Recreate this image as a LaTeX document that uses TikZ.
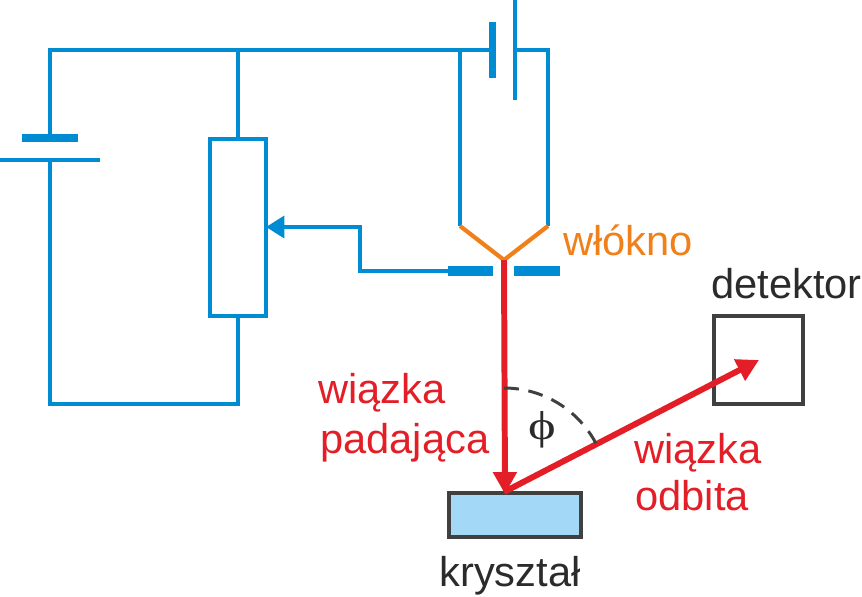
\documentclass[tikz,border=0pt]{standalone}
\usepackage{fontspec}
\setmainfont{Liberation Sans}
\newfontfamily\greekfont{Liberation Serif}
\usetikzlibrary{arrows.meta}
\definecolor{wireblue}{HTML}{008CD2}
\definecolor{beamred}{HTML}{E31E26}
\definecolor{filorange}{HTML}{F08019}
\definecolor{boxgray}{HTML}{404040}
\definecolor{textgray}{HTML}{2B2B2B}
\definecolor{crystalblue}{HTML}{A3D8F7}
\tikzset{
  wire/.style={draw=wireblue, line width=2.3pt},
  plate/.style={draw=wireblue, line width=4pt},
  slit/.style={fill=wireblue, inner sep=0pt, outer sep=0pt, minimum height=0.2cm},
  beam/.style={draw=beamred, line width=3.4pt, -{Triangle[length=12.5pt,width=13pt]}},
  label/.style={anchor=base west, inner sep=0pt, font=\fontsize{23.7pt}{28pt}\selectfont},
  box/.style={draw=boxgray, line width=2.3pt, outer sep=0pt, inner sep=0pt}
}
\begin{document}
\begin{tikzpicture}[x=0.02cm, y=-0.02cm]
  \useasboundingbox (0,0) rectangle (862,596);

  % wire corners
  \coordinate (topleft) at (50,50);
  \coordinate (toprheo) at (238,50);
  \coordinate (topfilL) at (460,50);
  \coordinate (batL) at (492.5,50);
  \coordinate (batR) at (515,50);
  \coordinate (topfilR) at (548,50);
  \coordinate (filL) at (460,226);
  \coordinate (filR) at (548,226);
  \coordinate (filtip) at (504,260);
  \coordinate (leftup) at (50,138);
  \coordinate (leftdown) at (50,160);
  \coordinate (botleft) at (50,404);
  \coordinate (botrheo) at (238,404);
  \coordinate (tapA) at (360,227);
  \coordinate (tapB) at (360,271);
  \coordinate (hit) at (505,494);
  \coordinate (beamstart) at (504,492);
  \coordinate (beamend) at (759,360);

  % rheostat, detector, crystal
  \node[box, draw=wireblue, minimum width=1.12cm, minimum height=3.54cm] (rheostat) at (238,227.5) {};
  \node[box, minimum width=1.77cm, minimum height=1.76cm] (detbox) at (758.7,360) {};
  \node[box, fill=crystalblue, minimum width=2.64cm, minimum height=0.88cm] (crystal) at (515,515) {};

  % main circuit
  \draw[wire] (leftup) -- (topleft) -- (batL);
  \draw[wire] (toprheo) -- (rheostat.north);
  \draw[wire] (topfilL) -- (filL);
  \draw[wire] (batR) -- (topfilR) -- (filR);
  \draw[wire] (leftdown) -- (botleft) -- (botrheo) -- (rheostat.south);

  % batteries
  \draw[plate] (22,138) -- (78,138);
  \draw[wire] (0,160) -- (100,160);
  \draw[plate] (492.5,22) -- (492.5,78);
  \draw[wire] (515,0) -- (515,100);

  % slit plates
  \node[slit, minimum width=0.9cm] (slitA) at (470.5,271) {};
  \node[slit, minimum width=0.92cm] (slitB) at (537,271) {};

  % tap arrow
  \draw[wire, -{Triangle[length=10.5pt,width=12.5pt]}] (slitA.west) -- (tapB) -- (tapA) -- (rheostat.east |- tapA);

  % filament
  \draw[draw=filorange, line width=2.4pt] (filL) -- (filtip) -- (filR);

  % beams
  \draw[beam] (filtip) -- (hit);
  \draw[beam] (beamstart) -- (beamend);

  % angle
  \draw[boxgray, line width=1.7pt, dash pattern=on 8.5pt off 5.5pt] (504,388) arc (-90:-28:104);

  % labels
  \node[label, text=filorange] (fil) at (563,255) {włókno};
  \node[label, text=textgray] (det) at (711,298) {detektor};
  \node[label, text=beamred] (inA) at (318,403) {wiązka};
  \node[label, text=beamred] (inB) at (320,453) {padająca};
  \node[label, text=beamred] (outA) at (634,463) {wiązka};
  \node[label, text=beamred] (outB) at (635,510) {odbita};
  \node[label, text=textgray] (cry) at (439,586) {kryształ};
  \node[label, text=textgray, xscale=1.3, font=\greekfont\fontsize{23pt}{28pt}\selectfont] (phi) at (528,439) {ϕ};
\end{tikzpicture}
\end{document}
